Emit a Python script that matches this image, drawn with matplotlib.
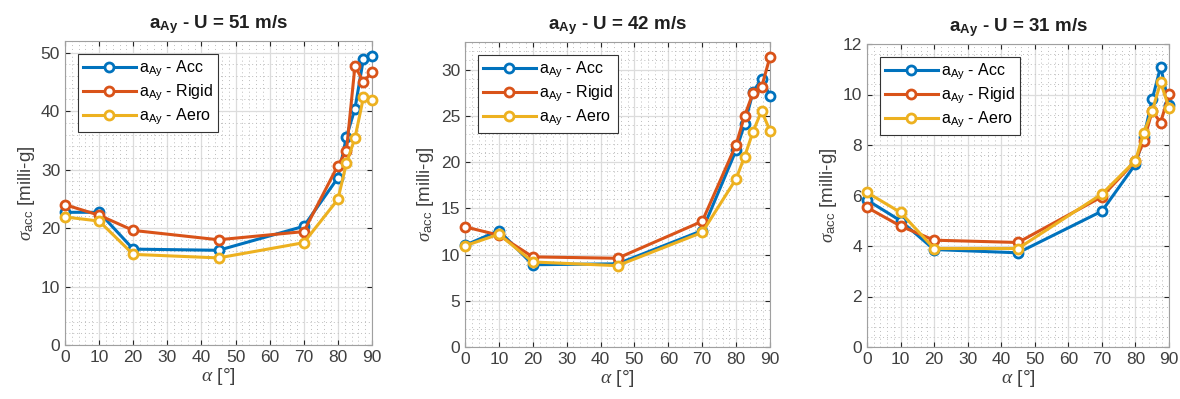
import matplotlib
matplotlib.use("Agg")
import matplotlib.pyplot as plt
from matplotlib.ticker import MultipleLocator

plt.rcParams["font.family"] = ["Liberation Sans", "DejaVu Sans"]
plt.rcParams["mathtext.fontset"] = "custom"
plt.rcParams["mathtext.rm"] = "Liberation Sans"
plt.rcParams["mathtext.it"] = "Liberation Serif:italic"
plt.rcParams["mathtext.bf"] = "Liberation Sans:bold"

alpha = [0, 10, 20, 45, 70, 80, 82.5, 85, 87.5, 90]

# U = 51 m/s
acc_51 = [22.7, 22.7, 16.4, 16.2, 20.3, 28.6, 35.6, 40.4, 49.0, 49.5]
rigid_51 = [24.0, 22.2, 19.6, 18.0, 19.4, 30.7, 33.2, 47.7, 45.0, 46.7]
aero_51 = [21.9, 21.2, 15.5, 14.9, 17.5, 24.9, 31.1, 35.4, 42.4, 41.9]

# U = 42 m/s
acc_42 = [11.0, 12.6, 8.9, 9.0, 12.6, 21.3, 24.1, 27.6, 29.0, 27.2]
rigid_42 = [13.0, 12.1, 9.75, 9.6, 13.6, 21.9, 25.0, 27.5, 28.1, 31.4]
aero_42 = [10.95, 12.2, 9.2, 8.8, 12.4, 18.2, 20.6, 23.3, 25.55, 23.4]

# U = 31 m/s
acc_31 = [5.82, 5.0, 3.86, 3.73, 5.38, 7.24, 8.33, 9.81, 11.1, 9.6]
rigid_31 = [5.53, 4.79, 4.23, 4.14, 5.95, 7.37, 8.16, 9.35, 8.89, 10.01]
aero_31 = [6.12, 5.33, 3.9, 3.9, 6.06, 7.38, 8.49, 9.35, 10.48, 9.48]

speeds = [51, 42, 31]
ylims = [52, 33, 12]
ysteps = [10, 5, 2]
yminor = [2, 1, 0.4]

series_names = ["Acc", "Rigid", "Aero"]
colors = ["#0072BD", "#D95319", "#EDB120"]

panels = [
    (acc_51, rigid_51, aero_51),
    (acc_42, rigid_42, aero_42),
    (acc_31, rigid_31, aero_31),
]

# axes boxes in pixels (left, right, top, bottom) for a 1180x399 canvas
W, H = 1180, 399
boxes = [(65, 372, 41, 345), (465, 770, 42, 347), (867, 1169, 44, 347)]

fig = plt.figure(figsize=(W / 100, H / 100), dpi=100)

for i, (data, speed) in enumerate(zip(panels, speeds)):
    l, r, t, b = boxes[i]
    aw, ah = r - l, b - t
    ax = fig.add_axes([l / W, 1 - b / H, aw / W, ah / H])
    for vals, name, c in zip(data, series_names, colors):
        ax.plot(alpha, vals, "-o", color=c, lw=2.2, ms=6.5, mew=2,
                mfc="white", clip_on=False, zorder=3,
                label=r"$\mathrm{a}_{\mathrm{Ay}}$ - " + name)
    ax.set_xlim(0, 90)
    ax.set_ylim(0, ylims[i])
    ax.xaxis.set_major_locator(MultipleLocator(10))
    ax.xaxis.set_minor_locator(MultipleLocator(2))
    ax.yaxis.set_major_locator(MultipleLocator(ysteps[i]))
    ax.yaxis.set_minor_locator(MultipleLocator(yminor[i]))
    ax.grid(True, which="major", color="#dcdcdc", lw=0.9)
    ax.grid(True, which="minor", color="#bdbdbd", lw=0.7, ls=(0, (1, 3)))
    ax.set_axisbelow(True)
    ax.tick_params(which="both", direction="in", colors="#262626",
                   labelcolor="#404040", labelsize=12.5, top=True, right=True)
    ax.tick_params(which="minor", length=0)
    for sp in ax.spines.values():
        sp.set_color("#a0a0a0")
        sp.set_linewidth(0.8)
    ax.set_title(r"$\mathbf{a}_{\mathbf{Ay}}$ - U = %d m/s" % speed,
                 fontsize=13.5, fontweight="bold", color="#202020", pad=9)
    ax.set_xlabel(r"$\alpha$ [°]", fontsize=14, color="#404040", labelpad=1)
    ax.set_ylabel(r"$\sigma_{\mathrm{acc}}$ [milli-g]", fontsize=13.5,
                  color="#404040", labelpad=3)
    leg = ax.legend(loc="upper left",
                    bbox_to_anchor=(13 / aw, 1 - 13 / ah),
                    borderaxespad=0, fontsize=11.5, fancybox=False,
                    edgecolor="#333333", framealpha=1, handlelength=3.3,
                    borderpad=0.3, labelspacing=0.22, handletextpad=0.25)
    leg.get_frame().set_linewidth(0.8)

fig.savefig("out.png", dpi=100)
